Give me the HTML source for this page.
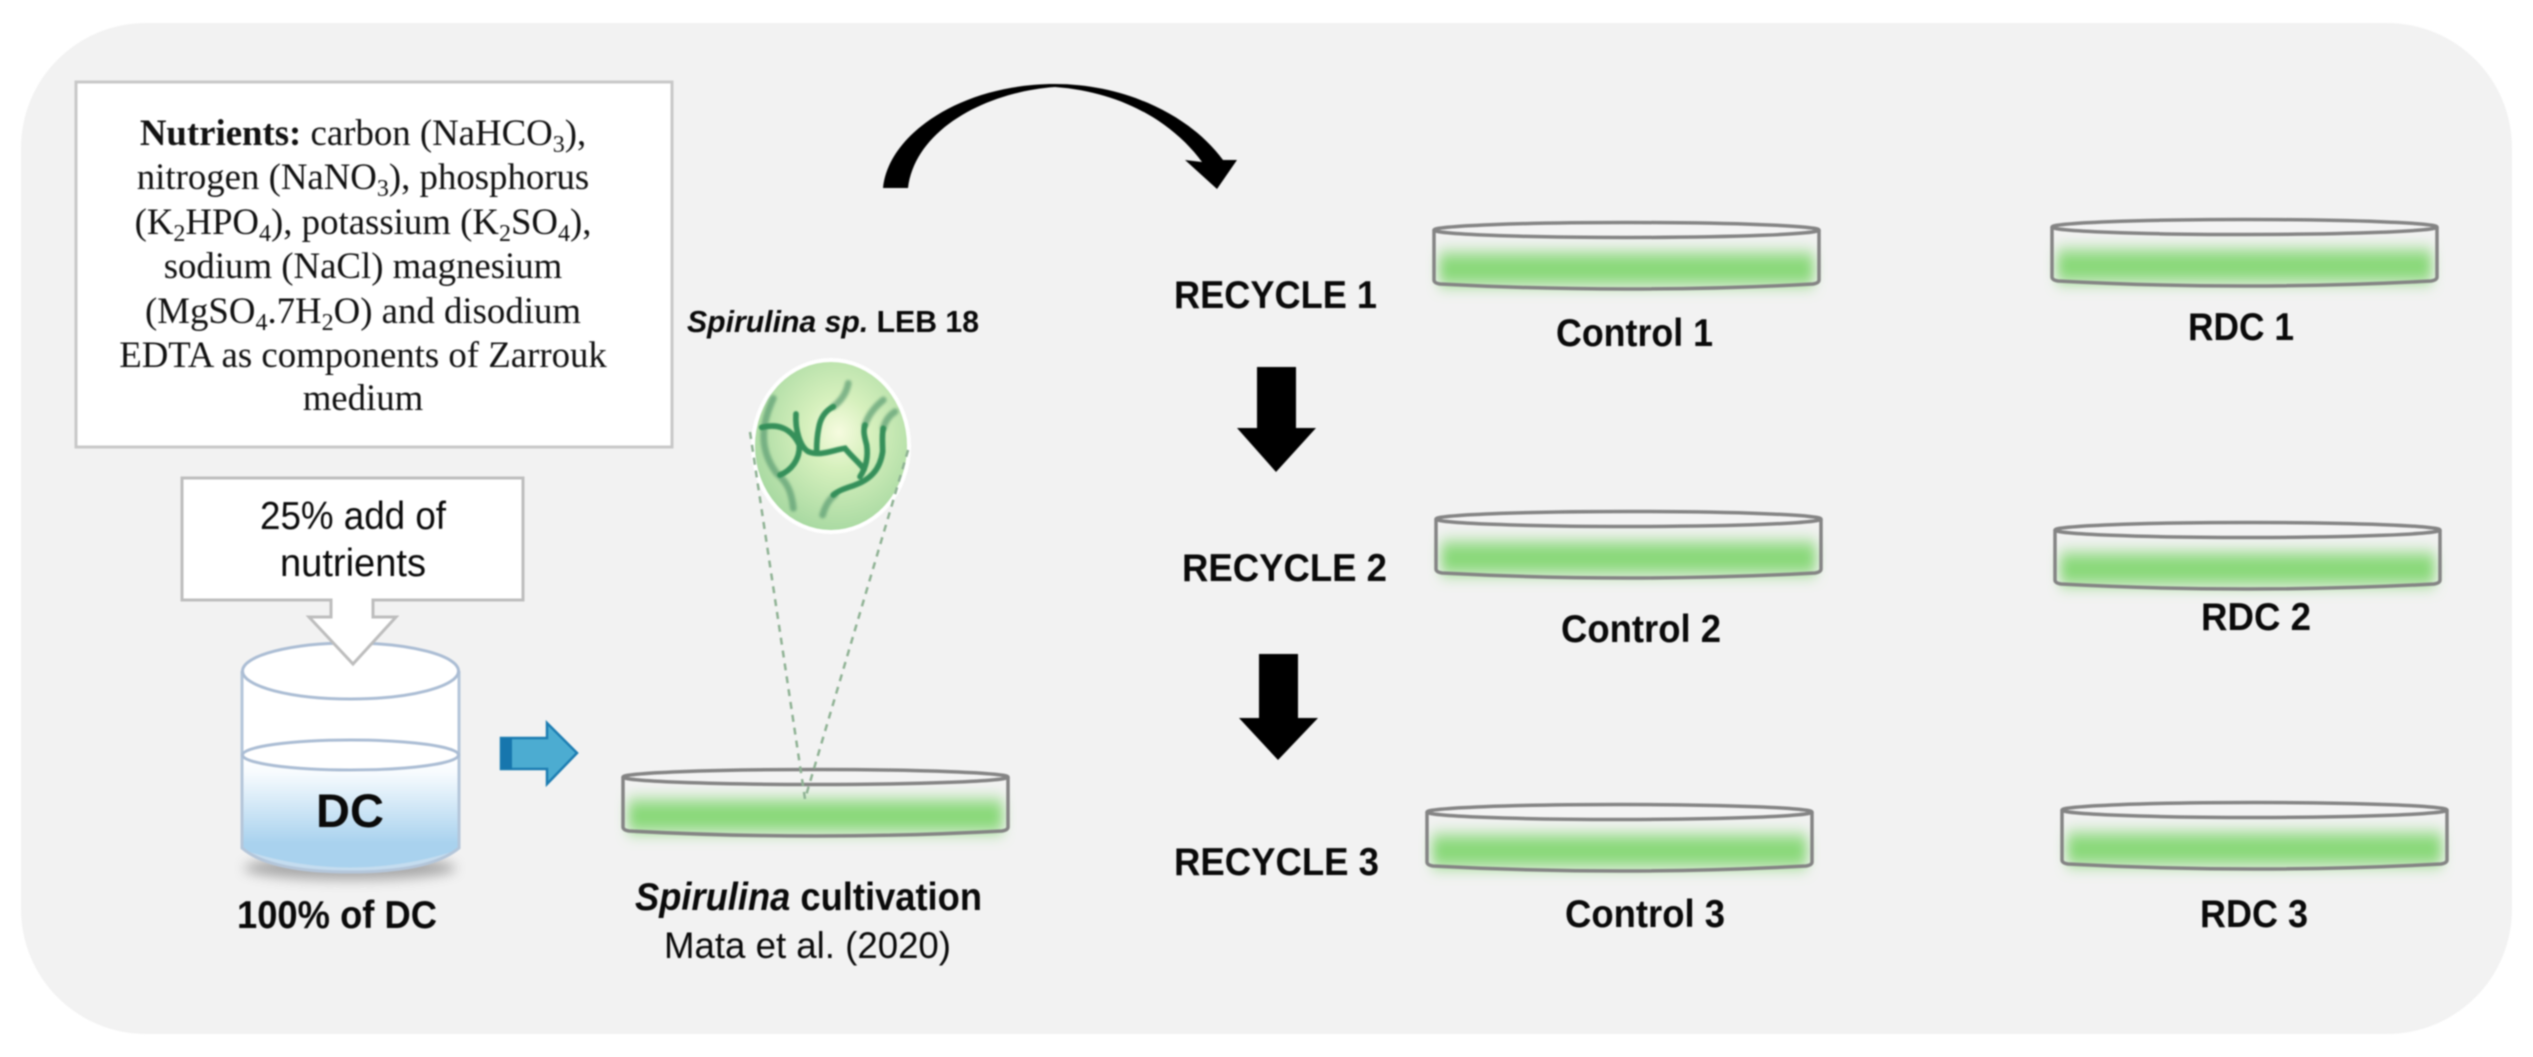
<!DOCTYPE html>
<html>
<head>
<meta charset="utf-8">
<style>
html,body{margin:0;padding:0;background:#fff;width:2533px;height:1057px;overflow:hidden}
svg{display:block;filter:blur(0.7px)}
text{font-family:"Liberation Sans",sans-serif;fill:#0a0a0a}
.b{font-weight:bold}
.s{font-family:"Liberation Serif",serif;font-size:36.800px;fill:#111;text-anchor:middle}
</style>
</head>
<body>
<svg width="2533" height="1057" viewBox="0 0 2533 1057" xmlns="http://www.w3.org/2000/svg">
<defs>
  <filter id="gl" x="-10%" y="-80%" width="120%" height="260%"><feGaussianBlur stdDeviation="6 8"/></filter>
  <filter id="sh" x="-20%" y="-100%" width="140%" height="300%"><feGaussianBlur stdDeviation="6"/></filter>
  <filter id="f1" x="-20%" y="-20%" width="140%" height="140%"><feGaussianBlur stdDeviation="4"/></filter>
  <filter id="f2" x="-20%" y="-20%" width="140%" height="140%"><feGaussianBlur stdDeviation="1.500"/></filter>
  <linearGradient id="wat" x1="0" y1="0" x2="0" y2="1">
    <stop offset="0" stop-color="#ffffff"/>
    <stop offset="0.15" stop-color="#f7fbfe"/>
    <stop offset="0.75" stop-color="#a9d2ee"/>
    <stop offset="1" stop-color="#a9d2ee"/>
  </linearGradient>
  <radialGradient id="cell" cx="0.55" cy="0.42" r="0.6">
    <stop offset="0" stop-color="#f6fbdf"/>
    <stop offset="0.35" stop-color="#d6f0bd"/>
    <stop offset="1" stop-color="#a6d8a0"/>
  </radialGradient>
  <clipPath id="cc"><ellipse cx="831" cy="446" rx="78" ry="86"/></clipPath>
  <g id="dish">
    <rect x="7" y="32" width="375" height="32" fill="#88d878" filter="url(#gl)"/>
    <path d="M2,9 V59 Q2,62 8,63 Q100,68 195,68 Q290,68 381,63 Q387,62 387,59 V9" fill="none" stroke="#848484" stroke-width="3.500"/>
    <ellipse cx="194.500" cy="9" rx="192.500" ry="7.500" fill="#f3f3f3" stroke="#848484" stroke-width="3.500"/>
  </g>
</defs>

<rect x="21" y="23" width="2491" height="1011" rx="125" ry="125" fill="#f2f2f2"/>

<!-- Nutrient box -->
<rect x="76" y="82" width="596" height="365" fill="#fff" stroke="#c8c8c8" stroke-width="3"/>
<text class="s" x="363" y="145"><tspan font-weight="bold">Nutrients:</tspan> carbon (NaHCO<tspan font-size="24" dy="7">3</tspan><tspan dy="-7">),</tspan></text>
<text class="s" x="363" y="189">nitrogen (NaNO<tspan font-size="24" dy="7">3</tspan><tspan dy="-7">), phosphorus</tspan></text>
<text class="s" x="363" y="234">(K<tspan font-size="24" dy="7">2</tspan><tspan dy="-7">HPO</tspan><tspan font-size="24" dy="7">4</tspan><tspan dy="-7">), potassium (K</tspan><tspan font-size="24" dy="7">2</tspan><tspan dy="-7">SO</tspan><tspan font-size="24" dy="7">4</tspan><tspan dy="-7">),</tspan></text>
<text class="s" x="363" y="278">sodium (NaCl) magnesium</text>
<text class="s" x="363" y="323">(MgSO<tspan font-size="24" dy="7">4</tspan><tspan dy="-7">.7H</tspan><tspan font-size="24" dy="7">2</tspan><tspan dy="-7">O) and disodium</tspan></text>
<text class="s" x="363" y="367">EDTA as components of Zarrouk</text>
<text class="s" x="363" y="410">medium</text>

<!-- Cylinder -->
<ellipse cx="350" cy="868" rx="106" ry="12" fill="#777" opacity="0.6" filter="url(#sh)"/>
<path d="M242,671 V848 Q270,872 350,872 Q430,872 459,848 V671 Z" fill="#fff"/>
<path d="M242,755 Q350,790 459,755 V848 Q430,872 350,872 Q270,872 242,848 Z" fill="url(#wat)"/>
<path d="M243,850 Q350,885 458,850 Q430,872 350,872 Q270,872 243,850 Z" fill="#c4dcef"/>
<path d="M242,671 V848 Q270,872 350,872 Q430,872 459,848 V671" fill="none" stroke="#b4c6da" stroke-width="3"/>
<ellipse cx="350.500" cy="671" rx="108" ry="28" fill="#fff" stroke="#abbdd4" stroke-width="3"/>
<ellipse cx="350.500" cy="755" rx="108" ry="15" fill="none" stroke="#abbdd4" stroke-width="3"/>
<text class="b" x="350" y="827" font-size="47" text-anchor="middle">DC</text>

<!-- 25% callout -->
<path d="M182,478 H523 V600 H373 V617 H396 L353,664 L309,617 H331 V600 H182 Z" fill="#fff" stroke="#bdbdbd" stroke-width="3"/>
<text x="353" y="529" font-size="39" text-anchor="middle" textLength="186" lengthAdjust="spacingAndGlyphs">25% add of</text>
<text x="353" y="576" font-size="39" text-anchor="middle" textLength="146" lengthAdjust="spacingAndGlyphs">nutrients</text>
<text class="b" x="337" y="928" font-size="39" text-anchor="middle" textLength="200" lengthAdjust="spacingAndGlyphs">100% of DC</text>

<!-- blue arrow -->
<path d="M501,738 H547 V723 L577,753 L547,784 V769 H501 Z" fill="#4cacd1" stroke="#1d7db2" stroke-width="2.500"/>
<rect x="501" y="738" width="11" height="31" fill="#1776ad"/>

<!-- main dish -->
<use href="#dish" x="621" y="768"/>

<!-- microscope cell -->
<ellipse cx="831" cy="446" rx="78" ry="86" fill="url(#cell)" stroke="#fff" stroke-width="4"/>
<g clip-path="url(#cc)">
  <g transform="translate(720,340) scale(0.3333)" fill="none" stroke-linecap="round">
    <g filter="url(#f1)" stroke="#5c9c72" stroke-width="20" opacity="0.7">
      <path d="M160,175 C130,240 110,320 170,400 C205,430 215,460 220,505"/>
      <path d="M385,130 C378,165 360,185 340,200"/>
      <path d="M490,180 C465,200 445,225 435,255"/>
      <path d="M525,215 C505,228 495,245 490,265"/>
      <path d="M345,465 C325,480 315,500 308,525"/>
    </g>
    <g filter="url(#f2)" stroke="#35905a" stroke-width="17">
      <path d="M125,262 C175,250 215,265 238,315 C240,360 212,392 180,405"/>
      <path d="M228,222 C225,270 240,320 265,335 C300,350 340,330 375,325 C395,350 420,370 432,388"/>
      <path d="M340,200 C310,215 300,240 296,265 C292,285 290,310 290,330"/>
      <path d="M435,255 C428,275 435,295 440,315 C445,350 440,380 420,410"/>
      <path d="M490,265 C485,285 488,310 488,335 C480,390 450,420 400,437 C375,445 355,452 340,465"/>
    </g>
  </g>
</g>
<path d="M750,432 L805,799 L909,447" fill="none" stroke="#8fb294" stroke-width="2.500" stroke-dasharray="7 6"/>

<text class="b" x="687" y="332" font-size="31" textLength="292" lengthAdjust="spacingAndGlyphs"><tspan font-style="italic">Spirulina sp.</tspan> LEB 18</text>
<text class="b" x="635" y="910" font-size="38.500" textLength="347" lengthAdjust="spacingAndGlyphs"><tspan font-style="italic">Spirulina</tspan> cultivation</text>
<text x="664" y="958" font-size="37.500" textLength="287" lengthAdjust="spacingAndGlyphs">Mata et al. (2020)</text>

<!-- curved arrow -->
<path d="M883,188 C888,135 960,84 1055,84 C1125,84 1190,115 1223,160 L1237,160 L1217,189 L1185,160 L1202,162 C1175,125 1125,92 1055,87 C985,92 915,130 908,188 Z" fill="#000"/>

<!-- black arrows -->
<path d="M1257,367 H1296 V428 H1316 L1276,472 L1237,428 H1257 Z" fill="#000"/>
<path d="M1259,654 H1298 V718 H1318 L1278,760 L1239,718 H1259 Z" fill="#000"/>

<!-- dishes -->
<use href="#dish" x="1432" y="221"/>
<use href="#dish" x="2050" y="218"/>
<use href="#dish" x="1434" y="510"/>
<use href="#dish" x="2053" y="521"/>
<use href="#dish" x="1425" y="803"/>
<use href="#dish" x="2060" y="801"/>

<!-- labels -->
<g font-size="39" font-weight="bold">
  <text x="1174" y="308" textLength="203" lengthAdjust="spacingAndGlyphs">RECYCLE 1</text>
  <text x="1182" y="581" textLength="205" lengthAdjust="spacingAndGlyphs">RECYCLE 2</text>
  <text x="1174" y="875" textLength="205" lengthAdjust="spacingAndGlyphs">RECYCLE 3</text>
  <text x="1556" y="346" textLength="157" lengthAdjust="spacingAndGlyphs">Control 1</text>
  <text x="1561" y="642" textLength="160" lengthAdjust="spacingAndGlyphs">Control 2</text>
  <text x="1565" y="927" textLength="160" lengthAdjust="spacingAndGlyphs">Control 3</text>
  <text x="2188" y="340" textLength="106" lengthAdjust="spacingAndGlyphs">RDC 1</text>
  <text x="2201" y="630" textLength="110" lengthAdjust="spacingAndGlyphs">RDC 2</text>
  <text x="2200" y="927" textLength="108" lengthAdjust="spacingAndGlyphs">RDC 3</text>
</g>
</svg>
</body>
</html>
